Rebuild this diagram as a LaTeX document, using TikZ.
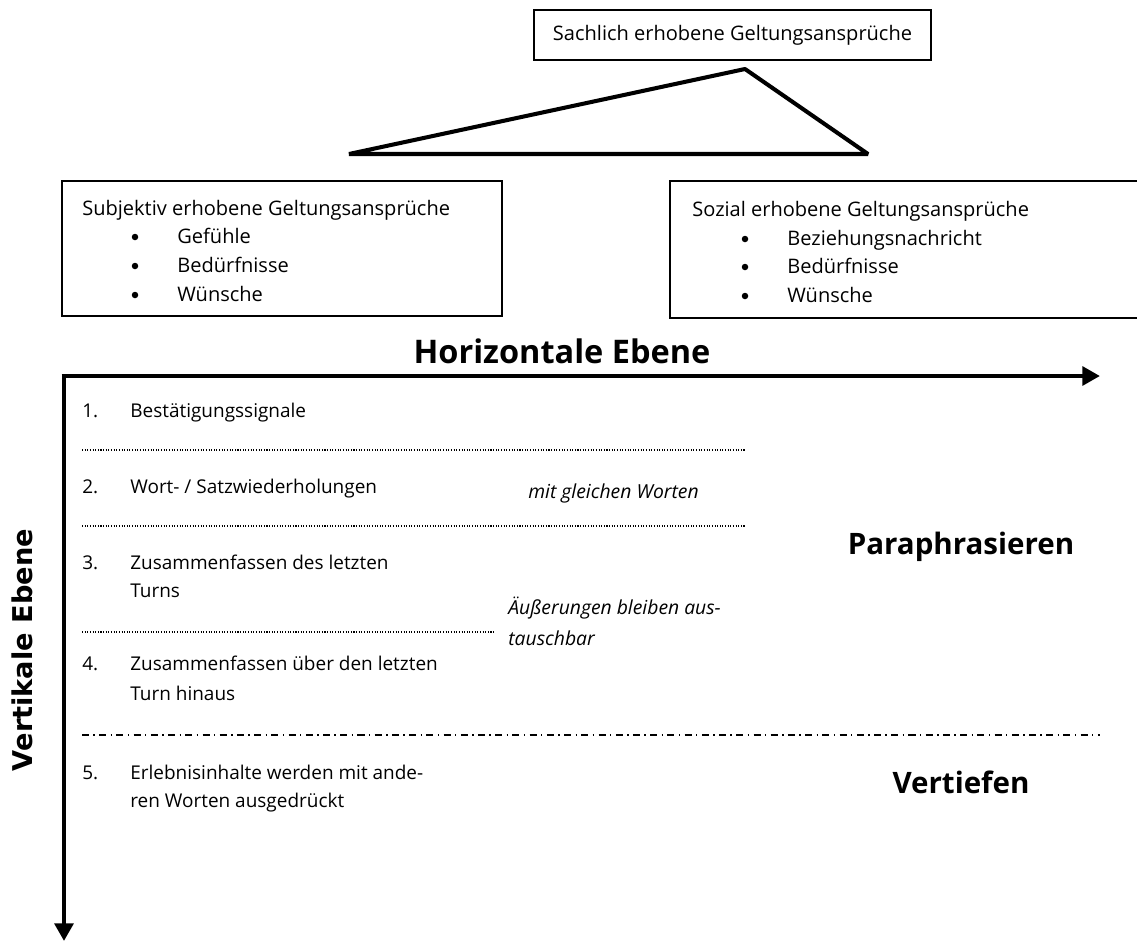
\documentclass[tikz,border=0pt]{standalone}
\usepackage{fontspec}
\setmainfont{Open Sans}
\newfontfamily\verdfont{DejaVu Sans}
\usetikzlibrary{positioning,arrows.meta}
\tikzset{>=latex}
\tikzstyle{itemtext} = [inner sep=0pt, anchor=base west, font=\fontsize{10.8}{15.9}\selectfont]
\tikzstyle{boxtext} = [inner sep=0pt, anchor=base west, font=\fontsize{11.4}{16}\selectfont]
\tikzstyle{notetext} = [inner sep=0pt, anchor=base west, font=\fontsize{11}{16}\selectfont\itshape]
\tikzstyle{headtext} = [inner sep=0pt, font=\fontsize{16.8}{20}\selectfont\bfseries]
\tikzstyle{boxframe} = [draw, line width=1.1pt]
\tikzstyle{dotmark} = [circle, fill, inner sep=0pt, minimum size=0.13cm]
\tikzstyle{axisarrow} = [line width=2.8pt, -{Triangle[length=10pt,width=10.5pt]}]
\tikzstyle{sepline} = [line width=0.6pt, dash pattern=on 0.6pt off 0.9pt]

\begin{document}
\begin{tikzpicture}[x=0.02cm, y=-0.02cm]
	\useasboundingbox (0,0) rectangle (1137,941);
	% top box and triangle
	\node[boxframe, minimum width=7.94cm, minimum height=1cm, font=\fontsize{11.4}{16}\selectfont] (sachlich) at (732.5,35) {Sachlich erhobene Geltungsansprüche};
	\coordinate (apex) at (745,69);
	\coordinate (tleft) at (349,154);
	\coordinate (tright) at (868,154);
	\draw[line width=2.3pt, line join=bevel] (tleft) -- (apex) -- (tright) -- cycle;
	% left box
	\draw[boxframe] (62,181) rectangle (502,316);
	\node[boxtext] (subj) at (82,215) {Subjektiv erhobene Geltungsansprüche};
	\foreach \y/\t in {237/Gefühle, 266/Bedürfnisse, 295/Wünsche}{
		\node[dotmark] (sb\y) at (135,\y) {};
		\node[boxtext] (st\y) at (177,\y+6) {\t};
	}
	% right box (cut at the border)
	\draw[boxframe] (1137,181) -- (670,181) -- (670,318) -- (1137,318);
	\node[boxtext] (soz) at (692,216) {Sozial erhobene Geltungsansprüche};
	\foreach \y/\t in {239/Beziehungsnachricht, 267/Bedürfnisse, 296/Wünsche}{
		\node[dotmark] (rb\y) at (745,\y) {};
		\node[boxtext] (rt\y) at (787,\y+6) {\t};
	}
	% axes
	\node[headtext, font=\fontsize{18.5}{22}\selectfont\bfseries] (hor) at (562,351) {Horizontale Ebene};
	\coordinate (origin) at (64,376);
	\draw[axisarrow] ([xshift=-1.4pt]origin) -- (1100,376);
	\draw[axisarrow] (origin) -- (64,941);
	\node[rotate=90, inner sep=0pt, font=\fontsize{15.5}{18}\selectfont\verdfont\bfseries] (vert) at (22,650) {Vertikale Ebene};
	% levels
	\node[itemtext] (n1) at (82,417) {1.};
	\node[itemtext] (i1) at (130,417) {Bestätigungssignale};
	\draw[sepline] (82,450) -- (745,450);
	\node[itemtext] (n2) at (82,493) {2.};
	\node[itemtext] (i2) at (130,493) {Wort- / Satzwiederholungen};
	\node[notetext] (m2) at (528,498) {mit gleichen Worten};
	\draw[sepline] (82,526) -- (745,526);
	\node[itemtext] (n3) at (82,569) {3.};
	\node[itemtext] (i3a) at (130,569) {Zusammenfassen des letzten};
	\node[itemtext] (i3b) at (130,597) {Turns};
	\node[notetext] (m3a) at (508,614) {Äußerungen bleiben aus-};
	\node[notetext] (m3b) at (508,645) {tauschbar};
	\draw[sepline] (82,632) -- (494,632);
	\node[itemtext] (n4) at (82,670) {4.};
	\node[itemtext] (i4a) at (130,670) {Zusammenfassen über den letzten};
	\node[itemtext] (i4b) at (130,700) {Turn hinaus};
	\draw[line width=0.6pt, dash pattern=on 4pt off 2.5pt on 0.8pt off 2.5pt] (82,735) -- (1100,735);
	\node[itemtext] (n5) at (82,779) {5.};
	\node[itemtext] (i5a) at (130,779) {Erlebnisinhalte werden mit ande-};
	\node[itemtext] (i5b) at (130,807) {ren Worten ausgedrückt};
	% right labels
	\node[headtext] (para) at (961,547) {Paraphrasieren};
	\node[headtext] (tief) at (961,782) {Vertiefen};
\end{tikzpicture}
\end{document}
